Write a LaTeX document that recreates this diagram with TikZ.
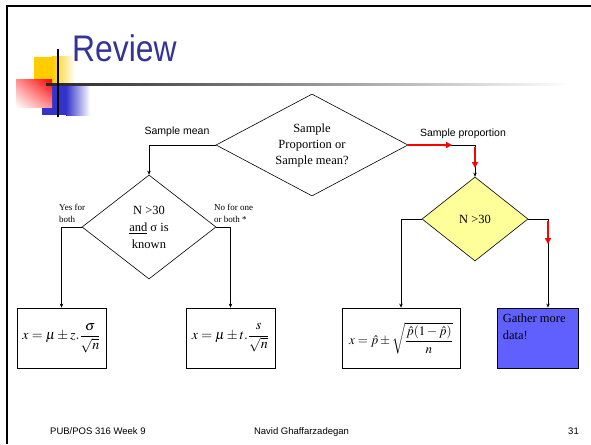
\documentclass[tikz,border=0pt]{standalone}
\usepackage{mathptmx}
\usepackage{fontspec}
\setmainfont{Liberation Serif}
\setsansfont{Liberation Sans}
\usetikzlibrary{shapes.geometric,arrows.meta,shadings}
\definecolor{titleblue}{HTML}{333399}
\definecolor{sqyellow}{HTML}{FFCC00}
\definecolor{sqblue}{HTML}{3333CC}
\definecolor{dyellow}{HTML}{FFFF99}
\definecolor{gblue}{HTML}{6060FF}
\begin{document}
\begin{tikzpicture}[x=1pt,y=-1pt,
  dia/.style={diamond,draw,line width=0.6pt,inner sep=0pt,align=center},
  box/.style={draw,line width=0.8pt,inner sep=0pt},
  conn/.style={line width=0.6pt,-{Stealth[length=4pt,width=3.5pt]}},
  redarr/.style={red,line width=2pt,-{Triangle[length=6pt,width=6pt]}},
  lab/.style={font=\sffamily\fontsize{10.5}{12}\selectfont,inner sep=0pt},
  small/.style={font=\fontsize{9}{12}\selectfont,align=left,inner sep=0pt},
  foot/.style={font=\sffamily\fontsize{9.5}{11}\selectfont,inner sep=0pt}]
\useasboundingbox (0,0) rectangle (591,444);
% frame
\draw[line width=2.5pt] (7,444) -- (7,6) -- (591,6);
% decoration
\fill[sqyellow] (34,57) rectangle (52,84);
\shade[left color=sqyellow,right color=white] (52,57) rectangle (75,84);
\fill[sqblue] (42,86) rectangle (66,115);
\shade[left color=sqblue,right color=white] (66,86) rectangle (90,115);
\shade[upper right=red,upper left=red!45,lower right=red!45,lower left=white] (16,79) rectangle (52,107);
\shade[left color=black!85,right color=white] (46,83.5) rectangle (570,85.5);
\draw[line width=2.5pt] (58,49) -- (58,117);
% title
\node[anchor=base west,inner sep=0pt,text=titleblue,font=\sffamily\fontsize{37}{40}\selectfont] (title) at (72,62) {\scalebox{0.86}[1]{Review}};
% diamonds
\node[dia,minimum width=192pt,minimum height=102pt,aspect=2,font=\fontsize{12.5}{16}\selectfont] (d1) at (312,145) {Sample\\Proportion or\\Sample mean?};
\node[dia,minimum width=134pt,minimum height=104pt,aspect=1.3,font=\fontsize{12.5}{17}\selectfont] (d2) at (149,227) {N >30\\\underline{and} σ is\\known};
\node[dia,fill=dyellow,minimum width=106pt,minimum height=84pt,aspect=1.3,font=\fontsize{12.5}{16}\selectfont] (d3) at (475,219) {N >30};
% boxes
\node[box,minimum width=89pt,minimum height=60pt] (b1) at (61.5,338) {\fontsize{14}{16}\selectfont$x=\mu\pm z.\displaystyle\frac{\sigma}{\sqrt{n}}$};
\node[box,minimum width=89pt,minimum height=60pt] (b2) at (230.5,338) {\fontsize{14}{16}\selectfont$x=\mu\pm t.\displaystyle\frac{s}{\sqrt{n}}$};
\node[box,minimum width=118pt,minimum height=60pt] (b3) at (401,338) {\fontsize{13}{15}\selectfont$\displaystyle x=\hat{p}\pm\sqrt{\frac{\hat{p}(1-\hat{p})}{n}}$};
\node[box,fill=gblue,minimum width=81pt,minimum height=60pt] (b4) at (537.5,338) {};
\node[anchor=north west,align=left,inner sep=0pt,font=\fontsize{12.5}{17}\selectfont] (b4t) at ([xshift=6pt,yshift=-6pt]b4.north west) {Gather more\\data!};
% connectors
\draw[conn] (d1.west) -| (d2.north);
\draw[conn] (d1.east) -| (d3.north);
\coordinate (r1) at (452,145);
\coordinate (r2a) at (475,147);
\coordinate (r2b) at (475,168);
\draw[redarr] (d1.east) -- (r1);
\draw[redarr] (r2a) -- (r2b);
\draw[conn] (d2.west) -| (b1.north);
\draw[conn] (d2.east) -| (b2.north);
\draw[conn] (d3.west) -| (b3.north);
\draw[conn] (d3.east) -| ([xshift=10.5pt]b4.north);
\coordinate (r3a) at (548,221);
\coordinate (r3b) at (548,244);
\draw[redarr] (r3a) -- (r3b);
% labels
\node[lab,anchor=base] (lmean) at (177,134) {Sample mean};
\node[lab,anchor=base] (lprop) at (463,136) {Sample proportion};
\node[small,anchor=west] (lyes) at (59,213) {Yes for\\both};
\node[small,anchor=west] (lno) at (214,213) {No for one\\or both *};
% footer
\node[foot,anchor=base west] (f1) at (50,434) {PUB/POS 316 Week 9};
\node[foot,anchor=base] (f2) at (301.5,434) {Navid Ghaffarzadegan};
\node[foot,anchor=base east] (f3) at (579,434) {31};
\end{tikzpicture}
\end{document}
